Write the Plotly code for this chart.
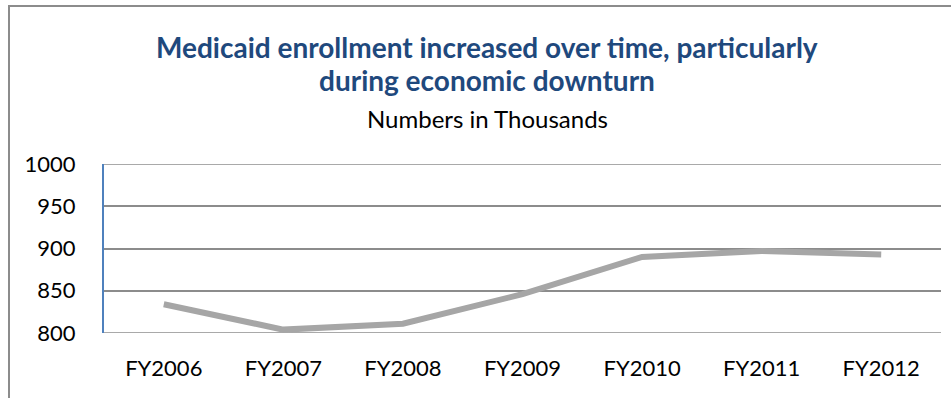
import plotly.graph_objects as go

categories = ["FY2006", "FY2007", "FY2008", "FY2009", "FY2010", "FY2011", "FY2012"]
enrollment = [834, 804, 811, 846, 890, 897, 893]
y_ticks = [800, 850, 900, 950, 1000]

title_line1 = "Medicaid enrollment increased over time, particularly"
title_line2 = "during economic downturn"
subtitle = "Numbers in Thousands"

FONT = "Lato"
L, R, T, B = 104, 10, 164, 65
W, H = 951, 398
PW = W - L - R
PH = H - T - B


def px_x(x):
    return (x - L) / PW


def px_y(y):
    return (H - B - y) / PH


fig = go.Figure()
fig.add_trace(go.Scatter(
    x=categories, y=enrollment, mode="lines",
    line=dict(color="#A6A6A6", width=6),
    hoverinfo="x+y",
))

grid_shapes = [
    dict(type="line", xref="paper", yref="y", x0=0, x1=1, y0=v, y1=v,
         line=dict(color="#8C8C8C", width=1.5), layer="below")
    for v in (y_ticks[0], y_ticks[-1])
]

fig.update_layout(
    width=W, height=H,
    margin=dict(l=L, r=R, t=T, b=B),
    paper_bgcolor="white", plot_bgcolor="white",
    showlegend=False,
    font=dict(family=FONT, size=22, color="black"),
    xaxis=dict(
        type="category", showgrid=False, showline=False, zeroline=False,
        ticks="", tickfont=dict(size=22, color="black"),
        ticklabelstandoff=20,
        range=[-0.5, 6.5],
    ),
    yaxis=dict(
        range=[800, 1000], tickvals=y_ticks, showgrid=True,
        gridcolor="#8C8C8C", gridwidth=1.5, zeroline=False,
        showline=True, linecolor="#4F81BD", linewidth=2,
        ticks="", ticklabelstandoff=22,
        tickfont=dict(size=22, color="black"),
    ),
    shapes=[
        dict(type="rect", xref="paper", yref="paper",
             x0=px_x(9), x1=px_x(W + 20), y0=px_y(H + 20), y1=px_y(6),
             line=dict(color="#8C8C8C", width=2), layer="below"),
    ] + grid_shapes,
    annotations=[
        dict(text="<b>" + title_line1 + "</b>", xref="paper", yref="paper",
             x=px_x(487), y=px_y(47), showarrow=False,
             xanchor="center", yanchor="middle",
             font=dict(family=FONT, size=28, color="#1F497D")),
        dict(text="<b>" + title_line2 + "</b>", xref="paper", yref="paper",
             x=px_x(487), y=px_y(80), showarrow=False,
             xanchor="center", yanchor="middle",
             font=dict(family=FONT, size=28, color="#1F497D")),
        dict(text=subtitle, xref="paper", yref="paper",
             x=px_x(487), y=px_y(118), showarrow=False,
             xanchor="center", yanchor="middle",
             font=dict(family=FONT, size=24, color="black")),
    ],
)

fig.write_html("out.html", config={"displayModeBar": False},
               post_script="document.body.style.margin='0';")
